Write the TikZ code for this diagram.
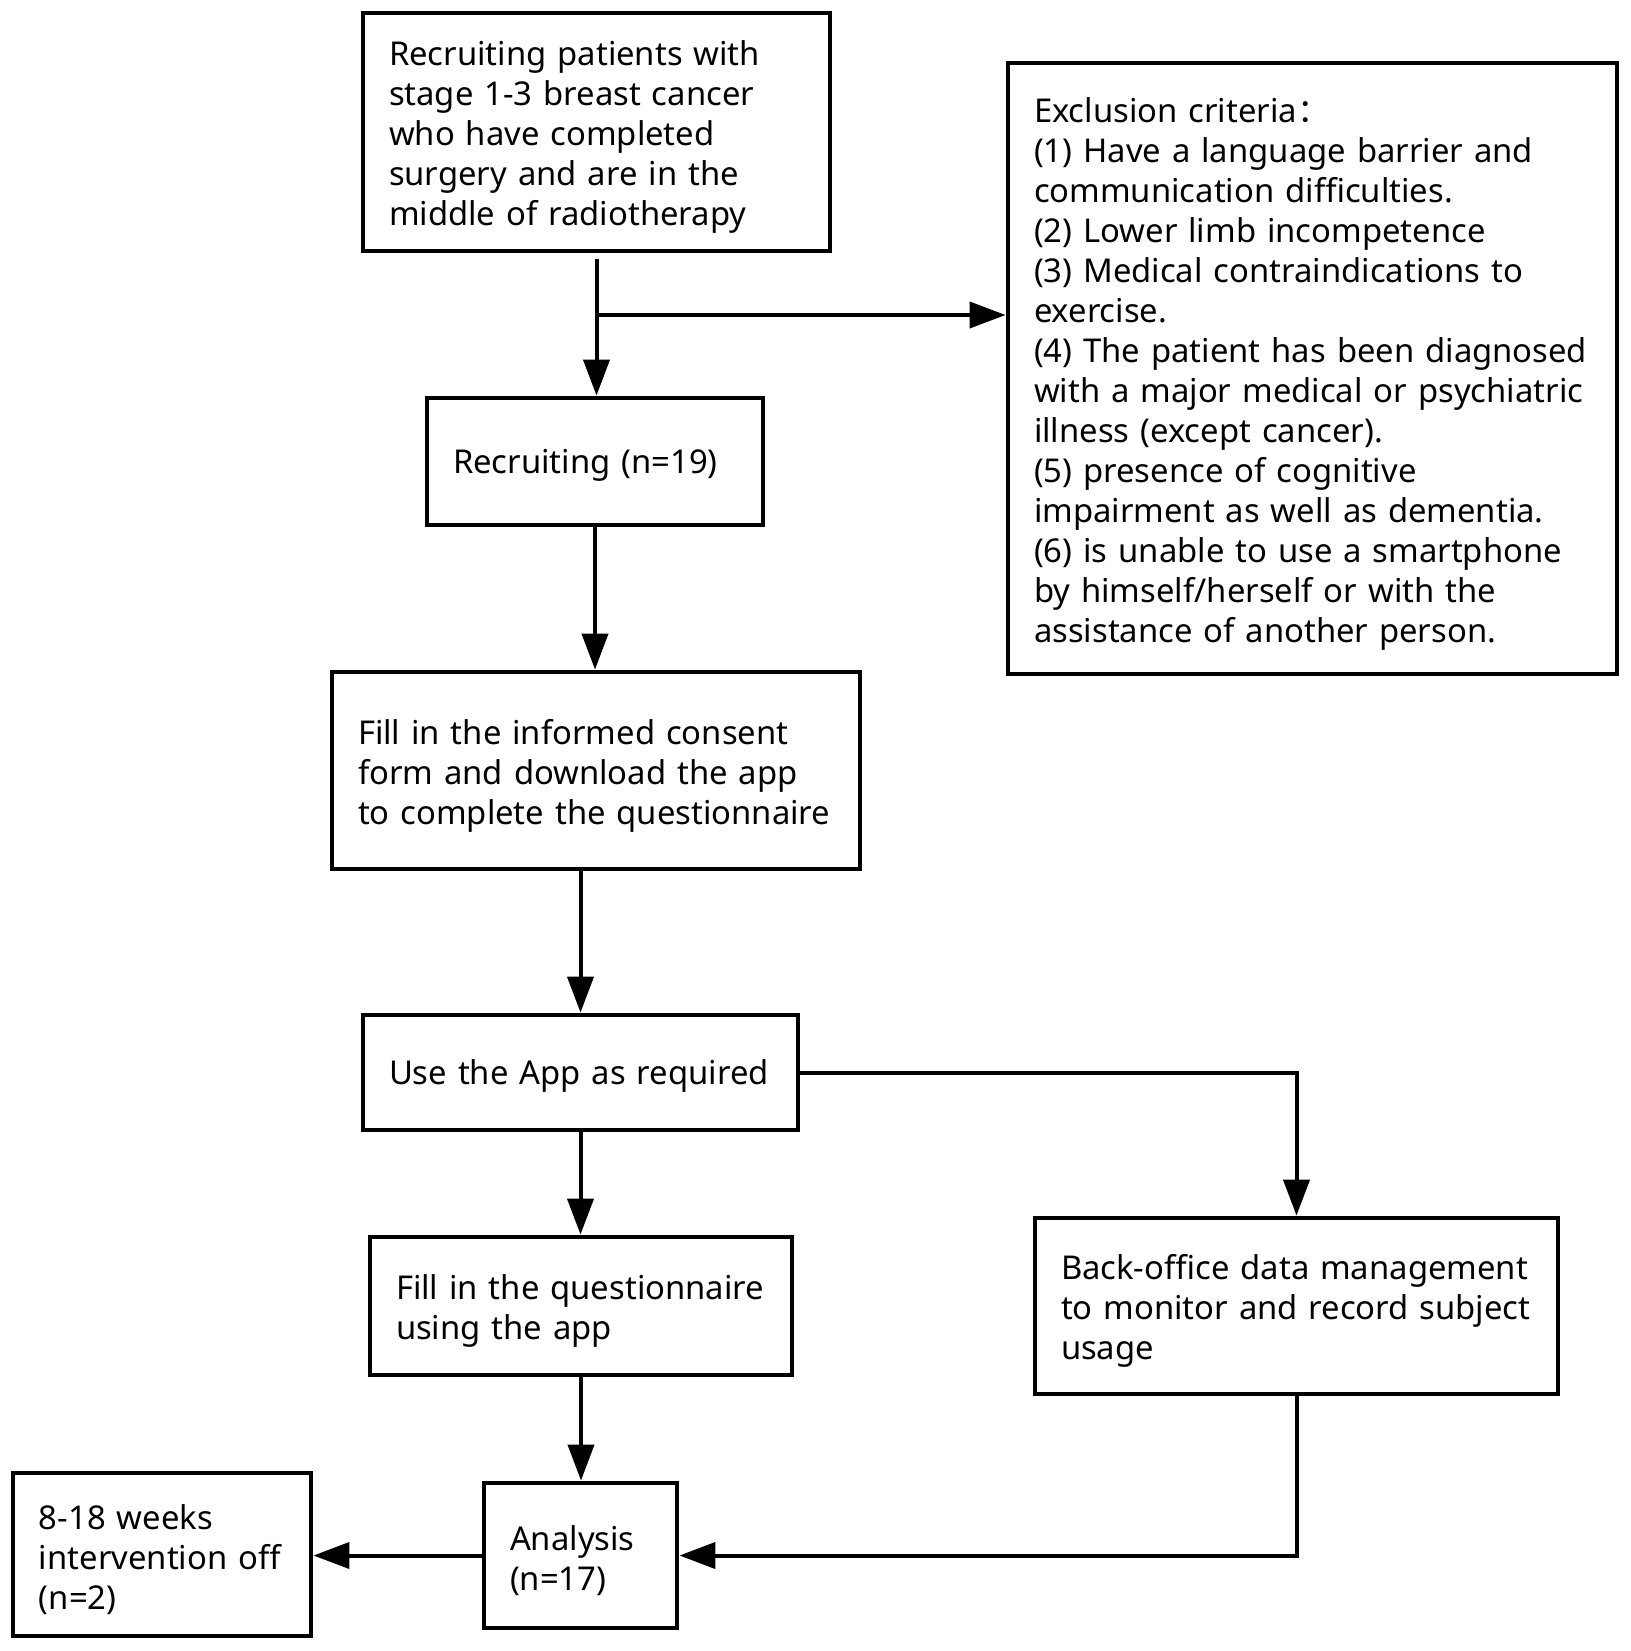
\documentclass[tikz,border=0pt]{standalone}
\usepackage{fontspec}
\setmainfont{Noto Sans}
\newfontfamily\cjk{Noto Sans CJK SC}
\usetikzlibrary{arrows.meta,calc}
\newcommand{\myshiftdown}{\par\vspace*{-5pt}}
\begin{document}
\begin{tikzpicture}[x=0.5pt,y=-0.5pt,
  box/.style={draw, line width=2.4pt, inner ysep=0pt, inner xsep=13pt, align=left,
    font=\fontsize{16.4}{20}\selectfont, anchor=center,
    execute at end node=\myshiftdown},
  arr/.style={line width=2pt, -{Triangle[length=18pt,width=13pt]}}]
\useasboundingbox (0,0) rectangle (1631,1651);
\fill[white] (0,0) rectangle (1631,1651);
\node[box, text width=207.5pt, minimum height=119pt] (b1) at (596.5,132)
  {Recruiting patients with\\stage 1-3 breast cancer\\who have completed\\surgery and are in the\\middle of radiotherapy};
\node[box, text width=278.5pt, minimum height=305.5pt] (ex) at (1312.5,368.5)
  {Exclusion criteria{\cjk ：}\\(1) Have a language barrier and\\communication difficulties.\\(2) Lower limb incompetence\\(3) Medical contraindications to\\exercise.\\(4) The patient has been diagnosed\\with a major medical or psychiatric\\illness (except cancer).\\(5) presence of cognitive\\impairment as well as dementia.\\(6) is unable to use a smartphone\\by himself/herself or with the\\assistance of another person.};
\node[box, text width=142pt, minimum height=63.5pt] (rec) at (595,461.5)
  {Recruiting (n=19)};
\node[box, text width=238pt, minimum height=98.5pt] (con) at (596,770.5)
  {Fill in the informed consent\\form and download the app\\to complete the questionnaire};
\node[box, text width=191.5pt, minimum height=57.5pt] (use) at (580.5,1072.5)
  {Use the App as required};
\node[box, text width=185pt, minimum height=69pt] (fq) at (581,1306)
  {Fill in the questionnaire\\using the app};
\node[box, text width=235.5pt, minimum height=88pt] (bo) at (1296.5,1306)
  {Back-office data management\\to monitor and record subject\\usage};
\node[box, text width=70.5pt, minimum height=72.5pt] (an) at (580.5,1555.5)
  {Analysis\\(n=17)};
\node[box, text width=123pt, minimum height=81.5pt] (wk) at (162,1554.5)
  {8-18 weeks\\intervention off\\(n=2)};
\coordinate (br) at (596.5,315);
\draw[arr, shorten <=3pt] (b1.south) -- (b1.south |- rec.north);
\draw[arr] (br) -- (br -| ex.west);
\draw[arr] (rec.south) -- (rec.south |- con.north);
\draw[arr] (use.north |- con.south) -- (use.north);
\draw[arr] (use.south) -- (use.south |- fq.north);
\draw[arr] (fq.south) -- (fq.south |- an.north);
\draw[arr] (use.east) -| (bo.north);
\draw[arr] (bo.south) |- (an.east);
\draw[arr] (an.west) -- (an.west -| wk.east);
\end{tikzpicture}
\end{document}
